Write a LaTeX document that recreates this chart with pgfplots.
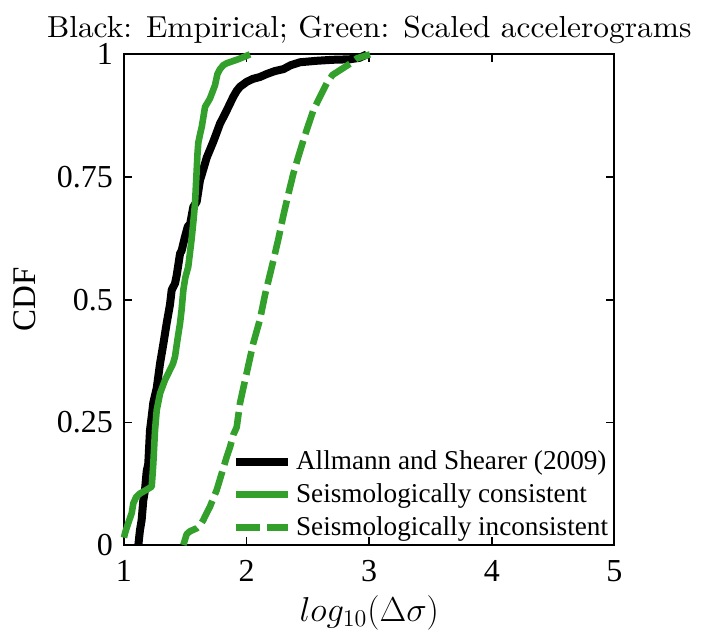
\documentclass[border=0pt]{standalone}
\usepackage[no-math]{fontspec}
\setmainfont{Liberation Serif}
\usepackage{graphicx}
\usepackage{pgfplots}
\pgfplotsset{compat=1.18}
\definecolor{cgreen}{RGB}{51,160,44}
\begin{document}
\begin{tikzpicture}
\begin{axis}[
  name=ax,
  scale only axis,
  width=245.25pt, height=245.3pt,
  xmin=1, xmax=5, ymin=0, ymax=1,
  clip=false,
  axis line style={line width=1pt},
  every tick/.style={line width=0.8pt, black},
  major tick length=4pt,
  xtick={1,2,3,4,5}, xticklabels={1,2,3,4,5},
  ytick={0,0.25,0.5,0.75,1}, yticklabels={0,0.25,0.5,0.75,1},
  tick label style={font=\fontsize{16}{18}\selectfont},
  xticklabel style={yshift=-4pt},
  yticklabel style={xshift=-2pt},
  xlabel={\fontsize{16.5}{18}\selectfont$log_{10}(\Delta\sigma)$},
  ylabel={\fontsize{16.5}{18}\selectfont CDF},
  xlabel style={at={(axis description cs:0.5,0)}, anchor=center, yshift=-34pt},
  ylabel style={at={(axis description cs:-0.2018,0.5)}, anchor=center},
  legend style={at={(1,0)}, anchor=south east, draw=none, fill=none,
    font=\fontsize{13.6}{15}\selectfont, inner sep=1pt,
    row sep=1.5pt, cells={anchor=west}},
  legend image code/.code={\draw[#1] (0pt,0pt) -- (26pt,0pt);},
  every axis plot/.append style={line join=round, line cap=butt},
]
\addplot[black, line width=4pt] coordinates {
(1.117,0.0) (1.130,0.03) (1.144,0.051) (1.157,0.09) (1.171,0.112) (1.185,0.15)
(1.198,0.166) (1.212,0.234) (1.225,0.26) (1.239,0.29) (1.267,0.32) (1.294,0.37)
(1.321,0.41) (1.348,0.452) (1.375,0.49) (1.389,0.52) (1.416,0.533) (1.43,0.55)
(1.457,0.594) (1.47,0.60) (1.497,0.628) (1.52,0.649) (1.540,0.655) (1.565,0.689)
(1.593,0.70) (1.620,0.744) (1.634,0.755) (1.675,0.790) (1.700,0.805) (1.728,0.822)
(1.755,0.84) (1.783,0.859) (1.810,0.872) (1.838,0.886) (1.865,0.900) (1.892,0.914)
(1.920,0.926) (1.946,0.934) (2.0,0.944) (2.05,0.950) (2.109,0.954) (2.164,0.960)
(2.23,0.966) (2.30,0.970) (2.36,0.978) (2.436,0.984) (2.572,0.987) (2.70,0.989)
(2.84,0.990) (2.92,0.993) (2.98,1.0)
};
\addlegendentry{Allmann and Shearer (2009)}
\addplot[cgreen, line width=3.3pt] coordinates {
(1.0,0.015) (1.008,0.024) (1.035,0.045) (1.063,0.065) (1.076,0.085) (1.10,0.098)
(1.13,0.105) (1.18,0.112) (1.226,0.119) (1.232,0.14) (1.239,0.166) (1.246,0.20)
(1.253,0.234) (1.267,0.275) (1.294,0.309) (1.334,0.336) (1.375,0.357) (1.40,0.37)
(1.416,0.384) (1.437,0.42) (1.457,0.452) (1.470,0.48) (1.484,0.52) (1.50,0.545)
(1.524,0.567) (1.540,0.60) (1.552,0.625) (1.566,0.66) (1.579,0.696) (1.586,0.73)
(1.593,0.765) (1.600,0.80) (1.606,0.820) (1.620,0.837) (1.634,0.852) (1.661,0.893)
(1.701,0.910) (1.742,0.937) (1.762,0.96) (1.783,0.970) (1.810,0.978) (1.838,0.982)
(1.93,0.99) (2.028,1.0)
};
\addlegendentry{Seismologically consistent}
\addplot[cgreen, line width=3.3pt, dash pattern=on 12pt off 3.5pt] coordinates {
(1.484,0.0) (1.511,0.022) (1.538,0.028) (1.593,0.034) (1.62,0.040) (1.647,0.051)
(1.670,0.063) (1.701,0.078) (1.728,0.095) (1.756,0.112) (1.797,0.146) (1.838,0.180)
(1.865,0.200) (1.892,0.225) (1.919,0.240) (1.946,0.289) (1.973,0.32) (2.0,0.350)
(2.054,0.411) (2.109,0.460) (2.15,0.51) (2.218,0.58) (2.26,0.625) (2.30,0.672)
(2.34,0.715) (2.381,0.757) (2.42,0.79) (2.463,0.825) (2.49,0.846) (2.544,0.886)
(2.599,0.914) (2.653,0.941) (2.70,0.958) (2.762,0.968) (2.843,0.981) (2.90,0.992)
(3.006,1.0)
};
\addlegendentry{Seismologically inconsistent}
\end{axis}
\node[anchor=base, inner sep=0pt] at ([yshift=8.5pt]ax.north)
  {\scalebox{1.57}[1.52]{\fontfamily{lmr}\fontsize{10}{12}\selectfont Black: Empirical; Green: Scaled accelerograms}};
\pgfresetboundingbox
\path (ax.south west) ++(-62pt,-44pt) rectangle ++(353pt,316.5pt);
\end{tikzpicture}
\end{document}
